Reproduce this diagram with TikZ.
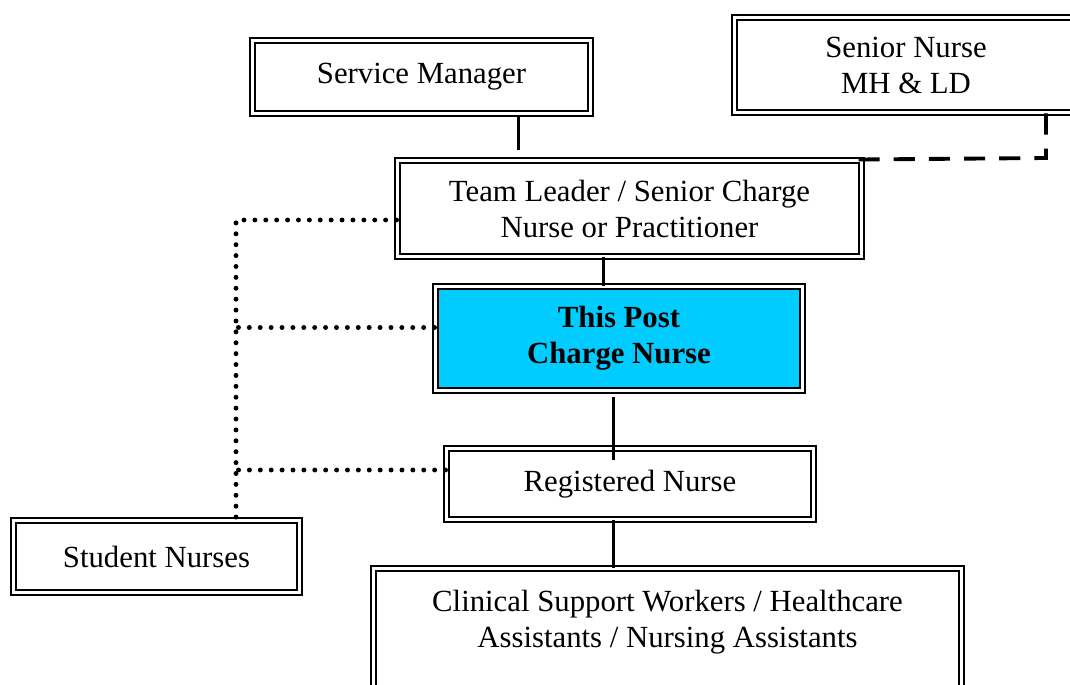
\documentclass[tikz,border=0pt]{standalone}
\usepackage{fontspec}
\setmainfont{Liberation Serif}
\usetikzlibrary{positioning}
\definecolor{postcyan}{HTML}{00CCFF}

\begin{document}
\begin{tikzpicture}[thick,
    role node/.style={draw,double,double distance=1.5pt,line width=1.1pt,align=center,inner sep=0pt,font=\fontsize{17.5}{20.5}\selectfont},
    head node/.style={role node,double distance=1.2pt,line width=1.6pt},
    post node/.style={role node,fill=postcyan,font=\fontsize{17.5}{20.5}\selectfont\bfseries},
    link/.style={line width=1.7pt},
    dot link/.style={line width=2.8pt,line cap=round,dash pattern=on 0pt off 6.2pt},
    dash link/.style={line width=2.2pt,dash pattern=on 12pt off 8pt}]
            \useasboundingbox (0,0) rectangle (21.4,-13.68);

            \node[head node, minimum width=6.76cm, minimum height=1.46cm] (sm) at (8.43,-1.54) {Service Manager};
            \node[role node, minimum width=6.86cm, minimum height=1.9cm] (sn) at (18.12,-1.30) {Senior Nurse\\MH \& LD};
            \node[role node, minimum width=9.28cm, minimum height=1.92cm] (tl) at (12.59,-4.17) {Team Leader / Senior Charge\\Nurse or Practitioner};
            \node[post node, minimum width=7.34cm, minimum height=2.08cm] (tp) at (12.38,-6.77) {This Post\\Charge Nurse};
            \node[role node, minimum width=7.34cm, minimum height=1.42cm] (rn) at (12.6,-9.68) {Registered Nurse};
            \node[role node, minimum width=5.72cm, minimum height=1.44cm] (stud) at (3.13,-11.13) {Student Nurses};
            \node[role node, minimum width=11.76cm, minimum height=2.74cm] (csw) at (13.35,-12.74) {Clinical Support Workers / Healthcare\\Assistants / Nursing Assistants\\\mbox{}};

            \coordinate (bend) at (20.92,-3.16);
            \coordinate (dtop) at (4.72,-4.4);

            \draw[link, shorten >=0.2cm] ([xshift=1.93cm]sm.south) -- ([xshift=1.93cm]sm.south |- tl.north);
            \draw[link] ([xshift=-0.53cm]tl.south) -- ([xshift=-0.53cm]tl.south |- tp.north);
            \draw[link] ([xshift=-0.12cm,yshift=-0.12cm]tp.south) -- ([xshift=-0.12cm,yshift=-0.24cm]tp.south |- rn.north);
            \draw[link] ([xshift=-0.34cm]rn.south) -- ([xshift=-0.34cm]rn.south |- csw.north);

            \draw[dash link] (sn.south -| bend) -- (bend) -- ([xshift=-0.16cm]tl.north east);

            \draw[dot link] ([yshift=-0.23cm]tl.west) -| (stud.north -| dtop);
            \draw[dot link] ([yshift=0.22cm]tp.west) -- ([yshift=0.22cm]tp.west -| dtop);
            \draw[dot link] ([yshift=0.28cm]rn.west) -- ++(-4.3,0);
\end{tikzpicture}
\end{document}
